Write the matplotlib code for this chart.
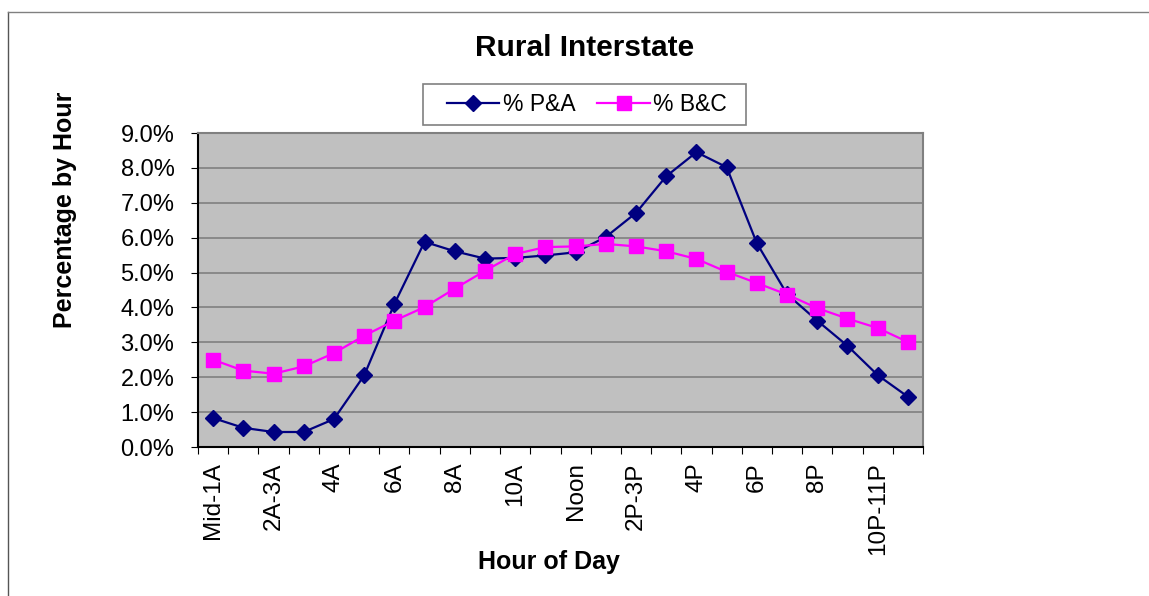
import matplotlib
matplotlib.use('Agg')
import matplotlib.pyplot as plt
from matplotlib.lines import Line2D
from matplotlib.patches import Rectangle
from matplotlib.ticker import FuncFormatter

plt.rcParams['font.family'] = ['Liberation Sans', 'DejaVu Sans']

# hourly share of traffic
hours = ['Mid-1A', '1A-2A', '2A-3A', '3A-4A', '4A', '5A', '6A', '7A',
         '8A', '9A', '10A', '11A', 'Noon', '1P-2P', '2P-3P', '3P-4P',
         '4P', '5P', '6P', '7P', '8P', '9P', '10P-11P', '11P-Mid']
pct_pa = [0.83, 0.55, 0.43, 0.43, 0.80, 2.05, 4.10, 5.88, 5.61, 5.40,
          5.42, 5.49, 5.58, 6.02, 6.71, 7.76, 8.45, 8.02, 5.84, 4.38,
          3.62, 2.90, 2.06, 1.44]
pct_bc = [2.50, 2.19, 2.10, 2.31, 2.69, 3.19, 3.62, 4.01, 4.54, 5.05,
          5.53, 5.73, 5.75, 5.82, 5.75, 5.61, 5.39, 5.02, 4.70, 4.37,
          3.98, 3.68, 3.41, 3.01]

W, H = 1149, 596
fig = plt.figure(figsize=(W / 100, H / 100), dpi=100)
ax = fig.add_axes([198 / W, 1 - 447 / H, 725 / W, 314 / H])
ax.set_facecolor('#c0c0c0')

xs = [i + 0.5 for i in range(len(hours))]
ax.plot(xs, pct_pa, color='#000080', linewidth=1.6, marker='D',
        markersize=7.8, markeredgewidth=1, label='% P&A')
ax.plot(xs, pct_bc, color='#ff00ff', linewidth=1.6, marker='s',
        markersize=10.5, markeredgewidth=1, label='% B&C')

ax.set_xlim(0, len(hours))
ax.set_ylim(0, 9)
ax.set_yticks([i for i in range(10)])
ax.yaxis.set_major_formatter(FuncFormatter(lambda v, p: '%.1f%%' % v))
ax.grid(axis='y', color='#808080', linewidth=1.2)
ax.set_axisbelow(True)

# boundary ticks without labels, labels on every other category centre
ax.set_xticks(range(len(hours) + 1))
ax.set_xticklabels([])
ax.set_xticks(xs[::2], minor=True)
ax.set_xticklabels(hours[::2], minor=True, rotation=90, fontsize=17.5)
ax.tick_params(axis='x', which='major', direction='out', length=5,
               color='black')
ax.tick_params(axis='x', which='minor', length=0, pad=11)
ax.tick_params(axis='y', direction='out', length=5, labelsize=17, pad=12)

for side in ['top', 'right']:
    ax.spines[side].set_color('#808080')
    ax.spines[side].set_linewidth(1.5)
for side in ['left', 'bottom']:
    ax.spines[side].set_color('black')
    ax.spines[side].set_linewidth(1.5)

fig.text(585 / W, 1 - 48 / H, 'Rural Interstate', ha='center',
         va='center', fontsize=21.5, fontweight='bold')
fig.text(65 / W, 1 - 210 / H, 'Percentage by Hour', ha='center',
         va='center', rotation=90, fontsize=18, fontweight='bold')
fig.text(549 / W, 1 - 562 / H, 'Hour of Day', ha='center',
         va='center', fontsize=18, fontweight='bold')

# legend box drawn separately so its padding matches
fig.add_artist(Rectangle((423 / W, 1 - 125 / H), 323 / W, 41 / H,
                         transform=fig.transFigure, facecolor='white',
                         edgecolor='#808080', linewidth=1.2))
fig.legend(loc='center', bbox_to_anchor=(587 / W, 1 - 104.5 / H),
           ncol=2, fontsize=16.5, frameon=False, handlelength=2.3,
           columnspacing=0.95, borderpad=0, handletextpad=0.15)

# outer chart border (left and top only visible)
fig.add_artist(Line2D([7.5 / W, 7.5 / W], [0, 1 - 11.5 / H],
                      transform=fig.transFigure, color='#555555', lw=1))
fig.add_artist(Line2D([7.5 / W, 1], [1 - 11.5 / H, 1 - 11.5 / H],
                      transform=fig.transFigure, color='#808080', lw=1))

fig.savefig('out.png', dpi=100)
